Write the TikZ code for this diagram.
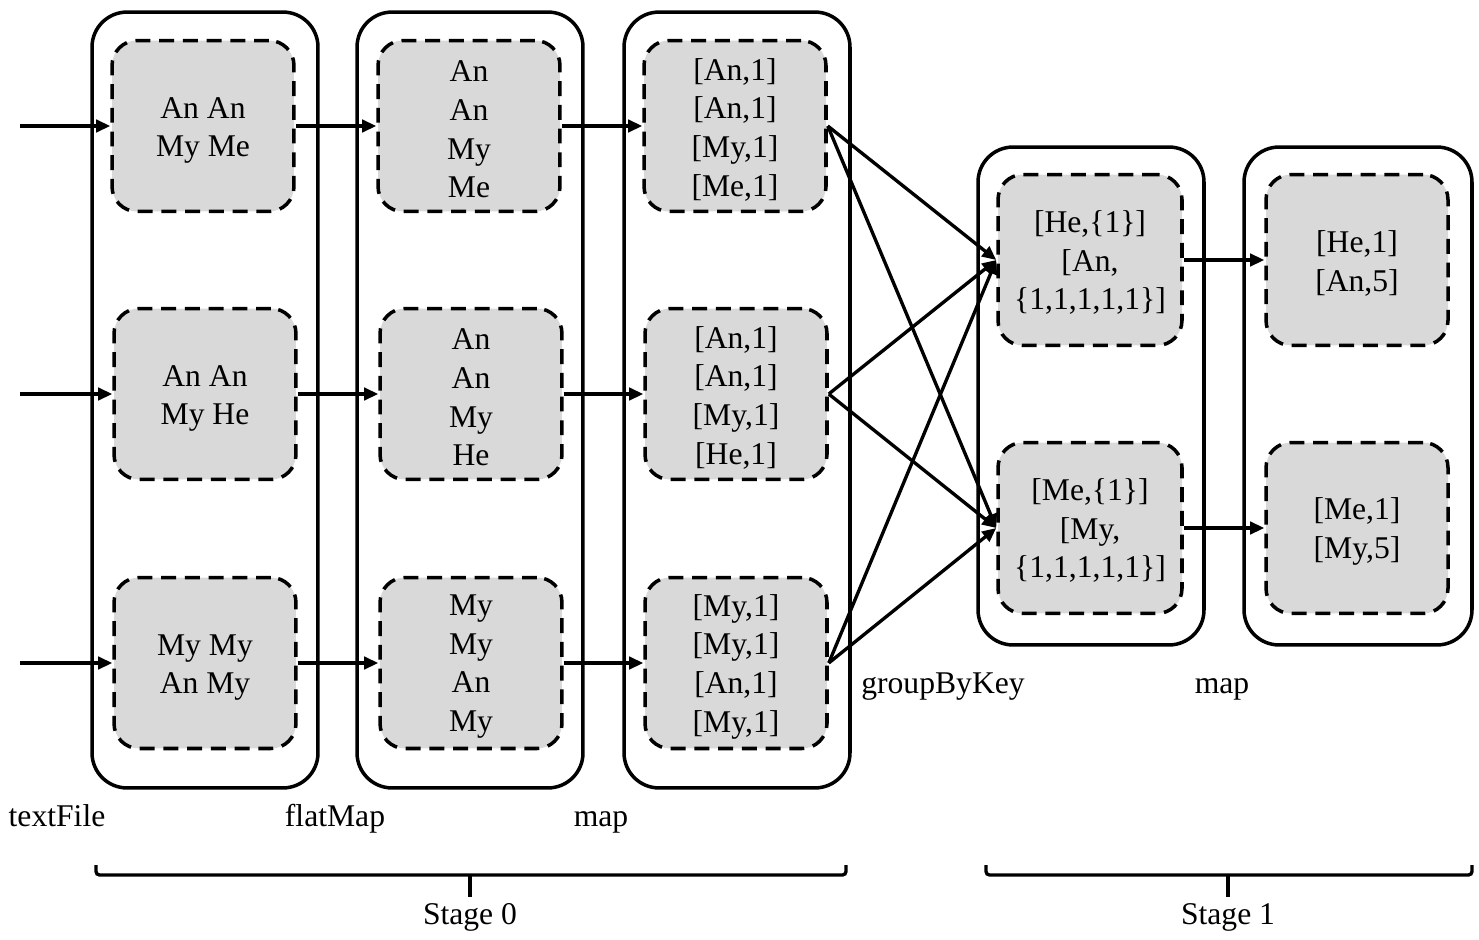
\documentclass[tikz,border=0pt]{standalone}
\usepackage{fontspec}
\setmainfont{Liberation Serif}
\usetikzlibrary{arrows.meta}
\definecolor{boxgray}{HTML}{D9D9D9}
\begin{document}
\begin{tikzpicture}[x=0.02cm,y=-0.02cm,
  outer/.style={draw, line width=2pt, rounded corners=0.7cm, minimum width=4.52cm, inner sep=0pt},
  inner/.style={draw, dash pattern=on 8.5pt off 5pt, line width=2pt, fill=boxgray, rounded corners=0.5cm,
    minimum width=3.64cm, minimum height=3.42cm, inner sep=0pt},
  txt/.style={align=center, inner sep=0pt, font=\fontsize{18}{22}\selectfont},
  lbl/.style={font=\fontsize{18}{22}\selectfont, inner sep=0pt, anchor=base},
  conn/.style={line width=1.9pt, -{Triangle[length=8pt,width=7pt]}},
  brace/.style={line width=1.9pt}
]
\useasboundingbox (0,0) rectangle (1479,939);

% outer containers
\node[outer, minimum height=15.52cm] (o1) at (205,400) {};
\node[outer, minimum height=15.52cm] (o2) at (470,400) {};
\node[outer, minimum height=15.52cm] (o3) at (737,400) {};
\node[outer, minimum height=9.96cm] (o4) at (1091,396) {};
\node[outer, minimum height=9.96cm, minimum width=4.56cm] (o5) at (1358,396) {};

% boxes
\node[inner] (a1) at (203,126) {};
\node[inner] (a2) at (205,394) {};
\node[inner] (a3) at (205,663) {};
\node[inner] (b1) at (469,126) {};
\node[inner] (b2) at (471,394) {};
\node[inner] (b3) at (471,663) {};
\node[inner] (c1) at (735,126) {};
\node[inner] (c2) at (736,394) {};
\node[inner] (c3) at (736,663) {};
\node[inner, minimum width=3.68cm] (d1) at (1090,260) {};
\node[inner, minimum width=3.68cm] (d2) at (1090,528) {};
\node[inner] (e1) at (1357,260) {};
\node[inner] (e2) at (1357,528) {};

% box texts
\node[txt] (ta1) at ([yshift=-2.5pt]a1.center) {An An\\My Me};
\node[txt] (ta2) at ([yshift=-2.5pt]a2.center) {An An\\My He};
\node[txt] (ta3) at ([yshift=-2.5pt]a3.center) {My My\\An My};
\node[txt] (tb1) at ([yshift=-2pt]b1.center) {An\\An\\My\\Me};
\node[txt] (tb2) at ([yshift=-2pt]b2.center) {An\\An\\My\\He};
\node[txt] (tb3) at ([yshift=-2pt]b3.center) {My\\My\\An\\My};
\node[txt] (tc1) at ([yshift=-2pt]c1.center) {[An,1]\\{}[An,1]\\{}[My,1]\\{}[Me,1]};
\node[txt] (tc2) at ([yshift=-2pt]c2.center) {[An,1]\\{}[An,1]\\{}[My,1]\\{}[He,1]};
\node[txt] (tc3) at ([yshift=-2pt]c3.center) {[My,1]\\{}[My,1]\\{}[An,1]\\{}[My,1]};
\node[txt] (td1) at ([yshift=-1.5pt]d1.center) {[He,\{1\}]\\{}[An,\\\{1,1,1,1,1\}]};
\node[txt] (td2) at ([yshift=-1.5pt]d2.center) {[Me,\{1\}]\\{}[My,\\\{1,1,1,1,1\}]};
\node[txt] (te1) at ([yshift=-2pt]e1.center) {[He,1]\\{}[An,5]};
\node[txt] (te2) at ([yshift=-2pt]e2.center) {[Me,1]\\{}[My,5]};

% inputs
\coordinate (i1) at (20,126);
\coordinate (i2) at (20,394);
\coordinate (i3) at (20,663);
\draw[conn] (i1) -- (a1.west);
\draw[conn] (i2) -- (a2.west);
\draw[conn] (i3) -- (a3.west);

% stage 0 connectors
\draw[conn] (a1.east) -- (b1.west);
\draw[conn] (a2.east) -- (b2.west);
\draw[conn] (a3.east) -- (b3.west);
\draw[conn] (b1.east) -- (c1.west);
\draw[conn] (b2.east) -- (c2.west);
\draw[conn] (b3.east) -- (c3.west);

% shuffle
\foreach \s in {c1,c2,c3}{
  \draw[conn] (\s.east) -- (d1.west);
  \draw[conn] (\s.east) -- (d2.west);
}
\draw[conn] (d1.east) -- (e1.west);
\draw[conn] (d2.east) -- (e2.west);

% labels
\node[lbl] (ltf) at (57,826) {textFile};
\node[lbl] (lfm) at (335,826) {flatMap};
\node[lbl] (lm0) at (601,826) {map};
\node[lbl] (lgb) at (943,693) {groupByKey};
\node[lbl] (lm1) at (1222,693) {map};

% braces
\coordinate (s0l) at (96,865);
\coordinate (s0r) at (846,865);
\coordinate (s0m) at (470,875);
\coordinate (s0t) at (470,897);
\draw[brace, rounded corners=2pt] (s0l) -- (96,875) -- (846,875) -- (s0r);
\draw[brace] (s0m) -- (s0t);
\node[lbl] (st0) at (470,924) {Stage 0};

\coordinate (s1l) at (986,865);
\coordinate (s1r) at (1472,865);
\coordinate (s1m) at (1228,875);
\coordinate (s1t) at (1228,897);
\draw[brace, rounded corners=2pt] (s1l) -- (986,875) -- (1472,875) -- (s1r);
\draw[brace] (s1m) -- (s1t);
\node[lbl] (st1) at (1228,924) {Stage 1};
\end{tikzpicture}
\end{document}
